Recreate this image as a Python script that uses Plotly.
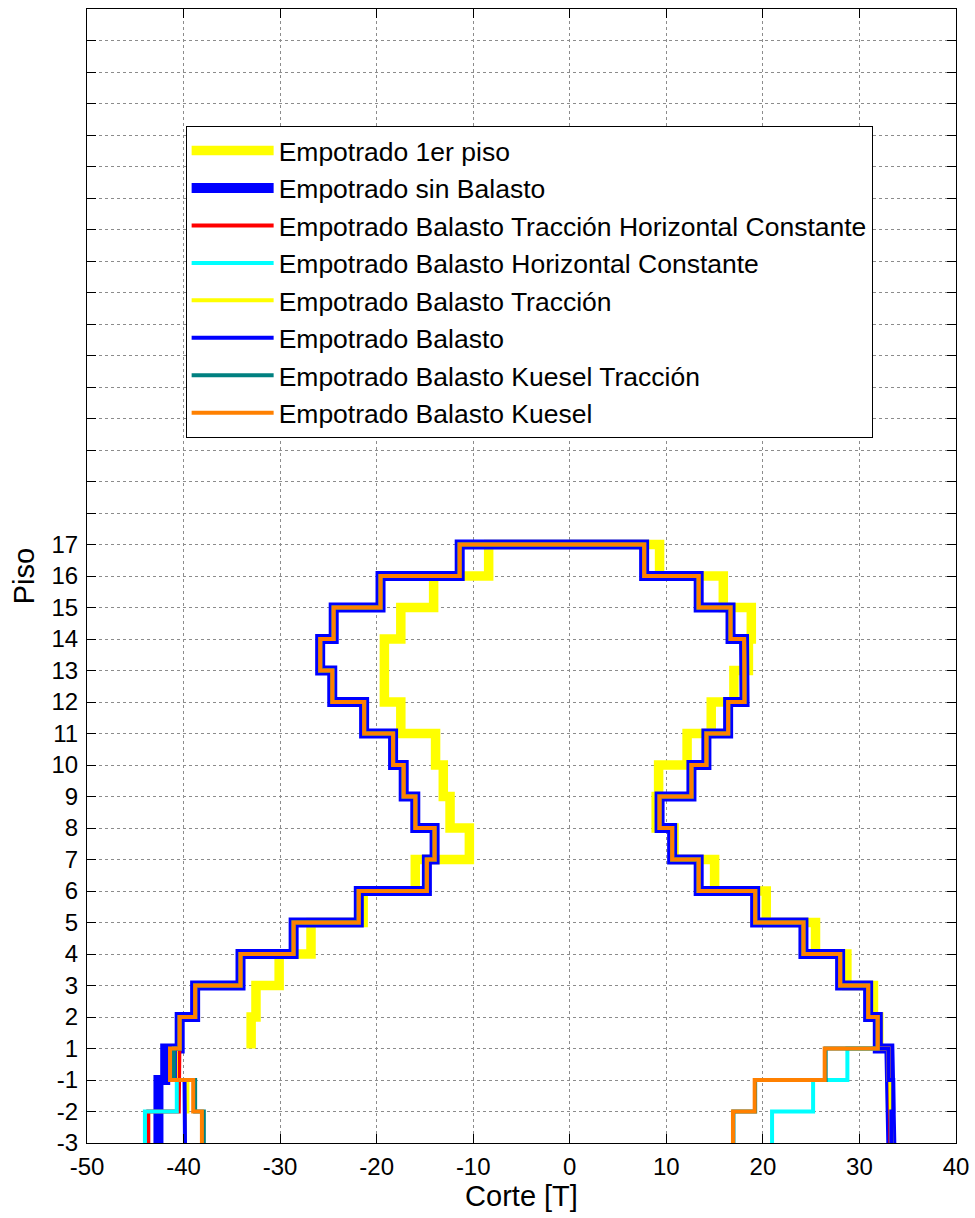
import plotly.graph_objects as go

# Floor labels (bottom to top); positions 0..19
floor_labels = ["-3", "-2", "-1", "1", "2", "3", "4", "5", "6", "7", "8", "9",
                "10", "11", "12", "13", "14", "15", "16", "17"]
n_extra_ticks = 17  # unlabeled grid ticks above floor 17

# X axis ticks
x_tickvals = [-50, -40, -30, -20, -10, 0, 10, 20, 30, 40]
x_ticktext = ["-50", "-40", "-30", "-20", "-10", "0", "10", "20", "30", "40"]

# Shared story shears above floor 1 (stories 2..17), negative / positive side
upper_neg = [-40.4, -38.8, -34.1, -28.6, -21.85, -14.8, -14.0, -16.0,
             -17.2, -18.3, -21.3, -24.6, -25.85, -24.45, -19.6, -11.4]
upper_pos = [31.9, 30.9, 28.0, 24.2, 19.2, 13.35, 10.6, 9.3,
             12.6, 14.15, 16.4, 18.1, 18.05, 16.65, 13.35, 7.7]

# Basement stories (-2, -1, 1) for each series, negative / positive side
sinbal_neg_b = [-42.6, -42.6, -41.9]
sinbal_pos_b = [33.3, 33.3, 33.1]
thc_neg_b = [-43.65, -40.5, -40.5]
thc_pos_b = [33.2, 33.2, 33.0]
hc_neg_b = [-44.0, -40.7, -41.0]
hc_pos_b = [20.95, 25.2, 28.75]
trac_neg_b = [-39.85, -39.6, -40.8]
trac_pos_b = [33.3, 33.2, 33.0]
bal_neg_b = [-39.85, -39.9, -40.9]
bal_pos_b = [33.3, 33.5, 33.0]
kt_neg_b = [-37.9, -38.8, -41.0]
kt_pos_b = [16.95, 19.2, 26.5]
ku_neg_b = [-38.1, -39.0, -41.4]
ku_pos_b = [16.9, 19.15, 26.4]

# Empotrado 1er piso (stories 2..17)
p1_neg = [-33.0, -32.5, -30.1, -26.8, -21.4, -16.0, -10.4, -12.4,
          -13.1, -13.9, -17.5, -19.2, -19.2, -17.5, -14.1, -8.4]
p1_pos = [32.0, 31.45, 28.7, 25.45, 20.35, 15.0, 10.8, 8.95,
          9.2, 12.15, 14.65, 17.0, 18.5, 18.8, 15.9, 9.3]


def stair(neg, pos, base):
    """Build a step outline: up the negative side, across the top, down the positive side."""
    xs, ys = [], []
    for i, v in enumerate(neg):
        xs += [v, v]
        ys += [base + i, base + i + 1]
    for i in range(len(pos) - 1, -1, -1):
        xs += [pos[i], pos[i]]
        ys += [base + i + 1, base + i]
    return xs, ys


series = [
    ("Empotrado 1er piso", p1_neg, p1_pos, 3, "#FFFF00", 9.5),
    ("Empotrado sin Balasto", sinbal_neg_b + upper_neg, sinbal_pos_b + upper_pos, 0, "#0000FF", 10),
    ("Empotrado Balasto Tracción Horizontal Constante", thc_neg_b + upper_neg, thc_pos_b + upper_pos, 0, "#FF0000", 4),
    ("Empotrado Balasto Horizontal Constante", hc_neg_b + upper_neg, hc_pos_b + upper_pos, 0, "#00FFFF", 4),
    ("Empotrado Balasto Tracción", trac_neg_b + upper_neg, trac_pos_b + upper_pos, 0, "#FFFF00", 4),
    ("Empotrado Balasto", bal_neg_b + upper_neg, bal_pos_b + upper_pos, 0, "#0000FF", 4),
    ("Empotrado Balasto Kuesel Tracción", kt_neg_b + upper_neg, kt_pos_b + upper_pos, 0, "#008080", 4),
    ("Empotrado Balasto Kuesel", ku_neg_b + upper_neg, ku_pos_b + upper_pos, 0, "#FF8000", 4),
]

fig = go.Figure()
for name, neg, pos, base, color, width in series:
    xs, ys = stair(neg, pos, base)
    fig.add_trace(go.Scatter(x=xs, y=ys, mode="lines", name=name,
                             line=dict(color=color, width=width)))

font_family = "Liberation Sans, Arial, sans-serif"
tickvals = list(range(len(floor_labels) + n_extra_ticks))
ticktext = floor_labels + [""] * n_extra_ticks

fig.update_layout(
    width=975, height=1218,
    margin=dict(l=87, r=19, t=9, b=75, autoexpand=False),
    paper_bgcolor="white", plot_bgcolor="white",
    font=dict(family=font_family, size=24, color="black"),
    showlegend=True,
    legend=dict(x=0.1135, y=0.897, xanchor="left", yanchor="top",
                bgcolor="white", bordercolor="black", borderwidth=1,
                font=dict(size=26.5, color="black"), itemwidth=82,
                tracegroupgap=0),
)
fig.update_xaxes(
    range=[-50, 40], tickvals=x_tickvals, ticktext=x_ticktext,
    showline=True, linecolor="black", linewidth=1, mirror="ticks",
    ticks="inside", ticklen=9, tickcolor="black",
    showgrid=True, gridcolor="#8c8c8c", griddash="dot", gridwidth=1,
    zeroline=False, ticklabelstandoff=2, automargin=False,
    title=dict(text="Corte [T]", standoff=4),
)
fig.update_yaxes(
    range=[0, 36], tickvals=tickvals, ticktext=ticktext,
    showline=True, linecolor="black", linewidth=1, mirror="ticks",
    ticks="inside", ticklen=9, tickcolor="black",
    showgrid=True, gridcolor="#8c8c8c", griddash="dot", gridwidth=1,
    zeroline=False, ticklabelstandoff=3, automargin=False,
    title=dict(text="Piso", standoff=8),
)

fig.write_html("out.html", config={"displayModeBar": False},
               post_script="document.body.style.margin='0';document.body.style.overflow='hidden';")
